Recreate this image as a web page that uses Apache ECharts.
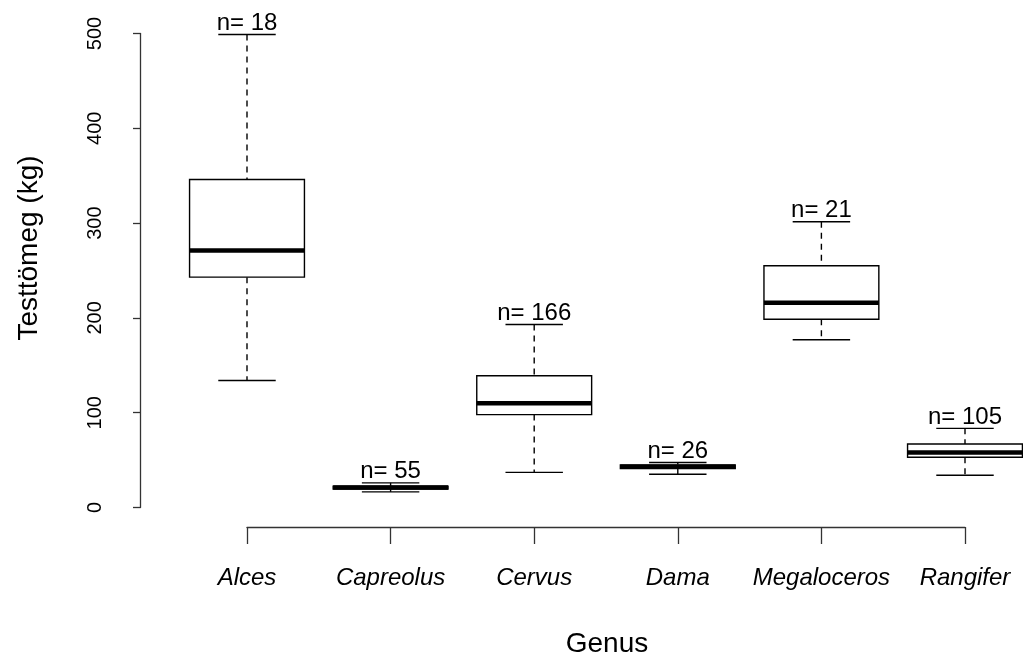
<!DOCTYPE html>
<html>
<head>
<meta charset="utf-8">
<script src="https://cdn.jsdelivr.net/npm/echarts@6/dist/echarts.min.js"></script>
<style>
  html, body { margin: 0; padding: 0; background: #fff; }
  #chart { width: 1023px; height: 657px; }
</style>
</head>
<body>
<div id="chart"></div>
<script>
// Body mass (kg) by deer genus: five-number summaries and sample sizes
const categories = ['Alces', 'Capreolus', 'Cervus', 'Dama', 'Megaloceros', 'Rangifer'];
const lowerWhisker = [134, 16.5, 37, 35, 177, 34];
const q1 = [243, 19.5, 98, 41, 198.5, 53];
const median = [271, 21, 110, 43, 216, 58];
const q3 = [346, 22.5, 139, 45, 255, 67];
const upperWhisker = [499, 26, 193, 47.5, 301.5, 83.5];
const counts = [18, 55, 166, 26, 21, 105];
const yTicks = [0, 100, 200, 300, 400, 500];
const xTitle = 'Genus';
const yTitle = 'Testtömeg (kg)';

const FONT = '"Liberation Sans", Arial, Helvetica, sans-serif';

const boxData = categories.map((c, i) => [i, lowerWhisker[i], q1[i], median[i], q3[i], upperWhisker[i], counts[i]]);

// One box per genus: dashed whiskers, half-width staples, box, bold median, n label
function renderBox(params, api) {
  const idx = api.value(0);
  const band = api.size([1, 0])[0];
  const bw = band * 0.8;
  const cw = bw * 0.5;
  const pLow = api.coord([idx, api.value(1)]);
  const pQ1 = api.coord([idx, api.value(2)]);
  const pMed = api.coord([idx, api.value(3)]);
  const pQ3 = api.coord([idx, api.value(4)]);
  const pHigh = api.coord([idx, api.value(5)]);
  const cx = pMed[0];
  const stroke = { stroke: '#000', lineWidth: 1.4 };
  const dashed = { stroke: '#000', lineWidth: 1.4, lineDash: [6, 5] };
  return {
    type: 'group',
    children: [
      { type: 'line', shape: { x1: cx, y1: pHigh[1], x2: cx, y2: pQ3[1] }, style: dashed },
      { type: 'line', shape: { x1: cx, y1: pQ1[1], x2: cx, y2: pLow[1] }, style: dashed },
      { type: 'line', shape: { x1: cx - cw / 2, y1: pHigh[1], x2: cx + cw / 2, y2: pHigh[1] }, style: stroke },
      { type: 'line', shape: { x1: cx - cw / 2, y1: pLow[1], x2: cx + cw / 2, y2: pLow[1] }, style: stroke },
      { type: 'rect', shape: { x: cx - bw / 2, y: pQ3[1], width: bw, height: pQ1[1] - pQ3[1] },
        style: { fill: '#fff', stroke: '#000', lineWidth: 1.4 } },
      { type: 'line', shape: { x1: cx - bw / 2, y1: pMed[1], x2: cx + bw / 2, y2: pMed[1] },
        style: { stroke: '#000', lineWidth: 4.5 } },
      { type: 'text', x: cx, y: pHigh[1] + 1,
        style: { text: 'n= ' + api.value(6), font: '24px ' + FONT, fill: '#000',
                 textAlign: 'center', textVerticalAlign: 'bottom' } }
    ]
  };
}

const chart = echarts.init(document.getElementById('chart'), null, { renderer: 'canvas' });
chart.setOption({
  animation: false,
  backgroundColor: '#fff',
  grid: { left: 247, right: 58, top: 33.5, bottom: 149.5, containLabel: false },
  graphic: [
    { type: 'text', x: 607, y: 644,
      style: { text: xTitle, font: '28px ' + FONT, fill: '#000', textAlign: 'center', textVerticalAlign: 'middle' } },
    { type: 'text', x: 29, y: 248, rotation: Math.PI / 2,
      style: { text: yTitle, font: '28px ' + FONT, fill: '#000', textAlign: 'center', textVerticalAlign: 'middle' } }
  ],
  xAxis: {
    type: 'category',
    data: categories,
    boundaryGap: false,
    offset: 19.5,
    axisLine: { show: true, onZero: false, lineStyle: { color: '#333', width: 1.3 } },
    axisTick: { show: true, length: 17, alignWithLabel: true, lineStyle: { color: '#333', width: 1.3 } },
    axisLabel: { fontFamily: FONT, fontSize: 24, fontStyle: 'italic', color: '#000', margin: 39, interval: 0 },
    splitLine: { show: false }
  },
  yAxis: {
    type: 'value',
    min: yTicks[0],
    max: yTicks[yTicks.length - 1],
    interval: 100,
    offset: 107,
    axisLine: { show: true, lineStyle: { color: '#333', width: 1.3 } },
    axisTick: { show: true, length: 7, lineStyle: { color: '#333', width: 1.3 } },
    axisLabel: { fontFamily: FONT, fontSize: 20, color: '#000', rotate: 90, margin: 35 },
    splitLine: { show: false }
  },
  series: [{
    type: 'custom',
    renderItem: renderBox,
    data: boxData,
    encode: { x: 0, y: [1, 2, 3, 4, 5] },
    clip: false
  }]
});
</script>
</body>
</html>
